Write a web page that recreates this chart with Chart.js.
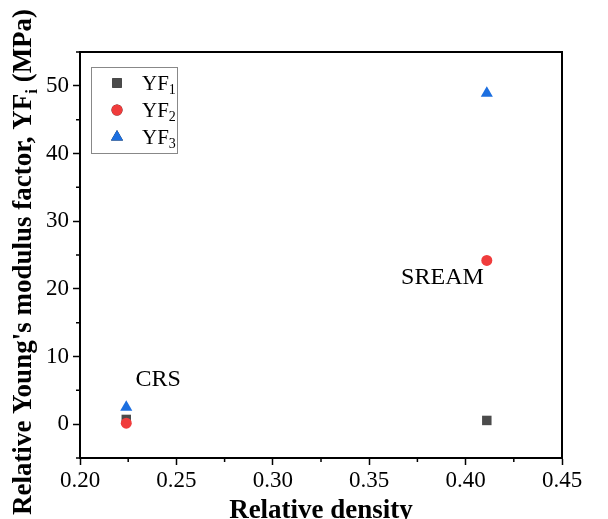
<!DOCTYPE html>
<html>
<head>
<meta charset="utf-8">
<script src="https://cdn.jsdelivr.net/npm/chart.js@4/dist/chart.umd.min.js"></script>
<style>
  html, body { margin: 0; padding: 0; background: #fff; }
  #wrap { width: 608px; height: 519px; }
</style>
</head>
<body>
<div id="wrap"><canvas id="grafica"></canvas></div>
<script>
// datos
const densidades = [0.224, 0.411];
const yf1 = [0.7, 0.55];
const yf2 = [0.15, 24.2];
const yf3 = [2.5, 48.9];
const xTicks = [0.20, 0.25, 0.30, 0.35, 0.40, 0.45];
const yTicks = [0, 10, 20, 30, 40, 50];
const xMinor = [0.225, 0.275, 0.325, 0.375, 0.425];
const yMinor = [-5, 5, 15, 25, 35, 45, 55];
const etiquetas = [
    { texto: 'CRS', x: 0.2405, y: 6.5 },
    { texto: 'SREAM', x: 0.388, y: 21.6 }
];

const serif = '"Liberation Serif", "Times New Roman", serif';

const puntos = (ys) => densidades.map((d, i) => ({ x: d, y: ys[i] }));

// marco, ticks menores, anotaciones, leyenda y titulo Y con subindice
const extras = {
    id: 'extras',
    afterDraw(chart) {
        const { ctx, chartArea: a, scales: { x, y } } = chart;
        ctx.save();
        ctx.strokeStyle = '#000';
        ctx.lineWidth = 2;
        ctx.strokeRect(a.left, a.top, a.right - a.left, a.bottom - a.top);

        ctx.lineWidth = 1.5;
        ctx.beginPath();
        xMinor.forEach(v => {
            const px = x.getPixelForValue(v);
            ctx.moveTo(px, a.bottom);
            ctx.lineTo(px, a.bottom + 4);
        });
        yMinor.forEach(v => {
            const py = y.getPixelForValue(v);
            ctx.moveTo(a.left, py);
            ctx.lineTo(a.left - 4, py);
        });
        ctx.stroke();

        ctx.fillStyle = '#000';
        ctx.font = '24px ' + serif;
        ctx.textAlign = 'center';
        ctx.textBaseline = 'middle';
        etiquetas.forEach(e => {
            ctx.fillText(e.texto, x.getPixelForValue(e.x), y.getPixelForValue(e.y));
        });

        // leyenda
        ctx.strokeStyle = '#888';
        ctx.lineWidth = 1;
        ctx.strokeRect(91.5, 67.5, 86, 86);
        const series = chart.data.datasets;
        series.forEach((ds, i) => {
            const cy = 83 + i * 27;
            Chart.helpers.drawPoint(ctx, {
                pointStyle: ds.pointStyle,
                radius: ds.pointRadius,
                borderWidth: 0
            }, 117, cy);
            ctx.fillStyle = ds.backgroundColor;
            ctx.fill();
            ctx.fillStyle = '#000';
            ctx.textAlign = 'left';
            ctx.textBaseline = 'alphabetic';
            ctx.font = '21px ' + serif;
            ctx.fillText('YF', 142, cy + 7);
            const w = ctx.measureText('YF').width;
            ctx.font = '14px ' + serif;
            ctx.fillText(String(i + 1), 142 + w, cy + 11);
        });

        // titulo eje Y
        const partes = [
            { t: "Relative Young's modulus factor, YF", f: 'bold 27px ' + serif, dy: 0 },
            { t: 'i', f: 'bold 17px ' + serif, dy: 6 },
            { t: ' (MPa)', f: 'bold 27px ' + serif, dy: 0 }
        ];
        let total = 0;
        partes.forEach(p => { ctx.font = p.f; total += ctx.measureText(p.t).width; });
        ctx.translate(31, 262);
        ctx.rotate(-Math.PI / 2);
        let pos = -total / 2;
        ctx.textAlign = 'left';
        ctx.textBaseline = 'alphabetic';
        partes.forEach(p => {
            ctx.font = p.f;
            ctx.fillText(p.t, pos, p.dy);
            pos += ctx.measureText(p.t).width;
        });
        ctx.restore();
    }
};

new Chart(document.getElementById('grafica').getContext('2d'), {
    type: 'scatter',
    data: {
        datasets: [
            { label: 'YF1', data: puntos(yf1), pointStyle: 'rect', pointRadius: 6.7, backgroundColor: '#4b4b4b', borderWidth: 0, order: 3 },
            { label: 'YF2', data: puntos(yf2), pointStyle: 'circle', pointRadius: 5.5, backgroundColor: '#f03c3c', borderWidth: 0, order: 2 },
            { label: 'YF3', data: puntos(yf3), pointStyle: 'triangle', pointRadius: 7, backgroundColor: '#1c6fe0', borderWidth: 0, order: 1 }
        ]
    },
    options: {
        responsive: true,
        maintainAspectRatio: false,
        animation: false,
        layout: { padding: { top: 52, right: 46, left: 0, bottom: 0 } },
        plugins: {
            legend: { display: false },
            tooltip: { enabled: false }
        },
        scales: {
            x: {
                type: 'linear',
                min: 0.2,
                max: 0.45,
                afterBuildTicks: (s) => { s.ticks = xTicks.map(v => ({ value: v })); },
                afterFit: (s) => { s.height = 61; },
                ticks: {
                    color: '#000',
                    padding: 2,
                    maxRotation: 0,
                    font: { family: serif, size: 23 },
                    callback: (v) => Number(v).toFixed(2)
                },
                grid: { drawOnChartArea: false, drawTicks: true, tickLength: 7, tickColor: '#000', tickWidth: 1.5 },
                border: { display: true, color: '#000', width: 2 },
                title: {
                    display: true,
                    text: 'Relative density',
                    color: '#000',
                    padding: { top: 0, bottom: -8 },
                    font: { family: serif, size: 27, weight: 'bold' }
                }
            },
            y: {
                type: 'linear',
                min: -5,
                max: 55,
                afterBuildTicks: (s) => { s.ticks = yTicks.map(v => ({ value: v })); },
                afterFit: (s) => { s.width = 80; },
                ticks: {
                    color: '#000',
                    padding: 4,
                    font: { family: serif, size: 23 }
                },
                grid: { drawOnChartArea: false, drawTicks: true, tickLength: 7, tickColor: '#000', tickWidth: 1.5 },
                border: { display: true, color: '#000', width: 2 }
            }
        }
    },
    plugins: [extras]
});
</script>
</body>
</html>
